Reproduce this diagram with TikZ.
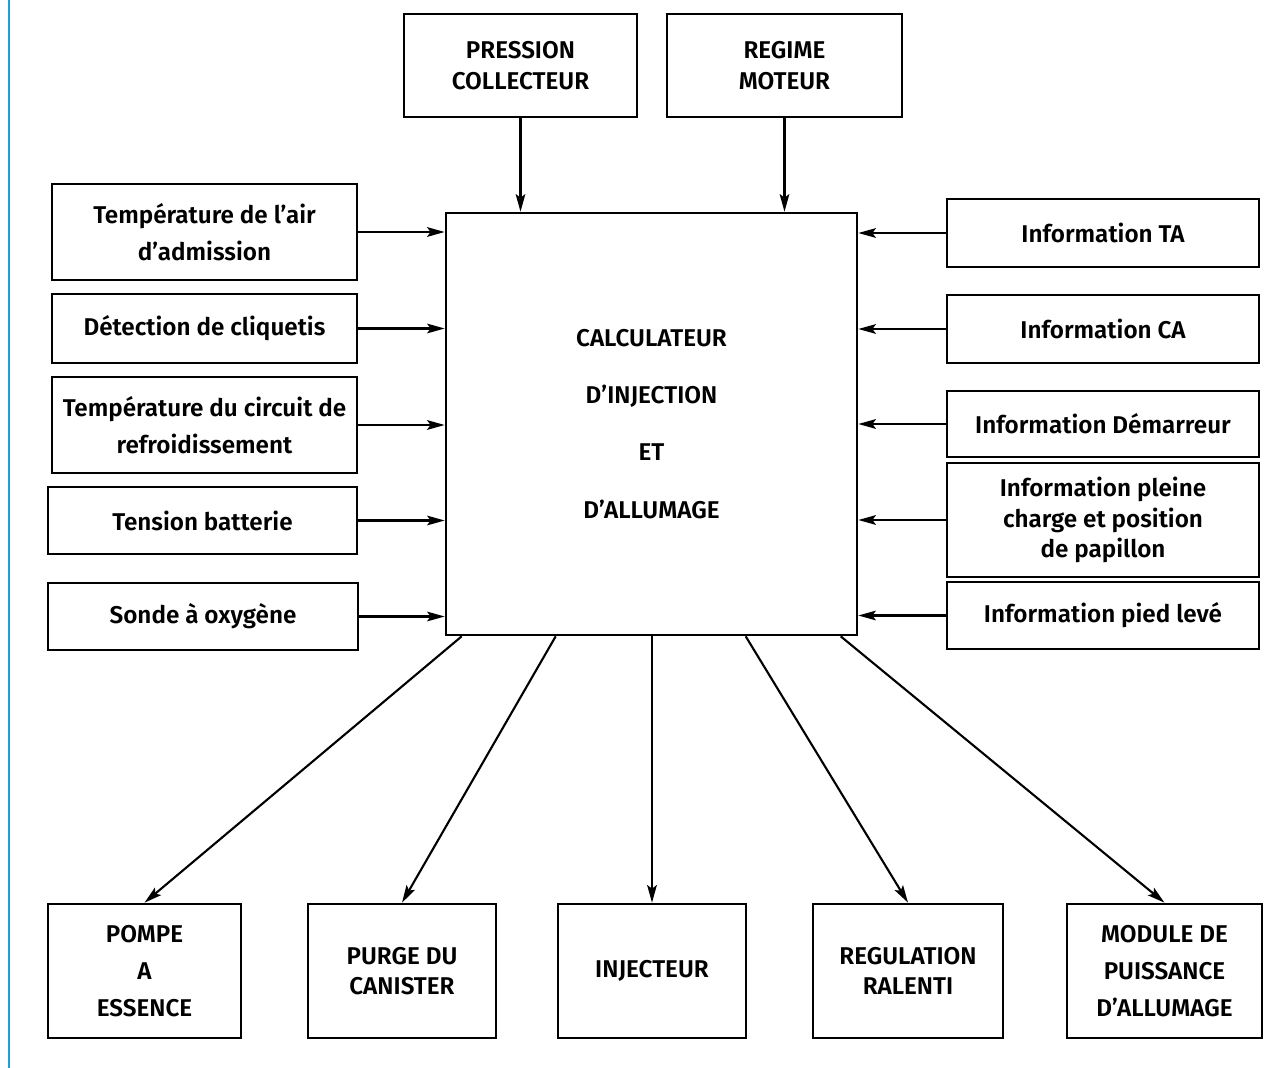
\documentclass[tikz,border=0pt]{standalone}
\usepackage{fontspec}
\setmainfont{Fira Sans}[UprightFont=* SemiBold, BoldFont=* Bold]
\usetikzlibrary{arrows.meta,calc}
\definecolor{edgeblue}{RGB}{28,160,214}
\newcommand\bx[7][]{\node[box,#1, minimum width={(#5-#3)*0.02cm}, minimum height={(#6-#4)*0.02cm}] (#2) at ({(#3+#5)/2},{(#4+#6)/2}) {#7};}
\begin{document}
\begin{tikzpicture}[x=0.02cm,y=-0.02cm,
  box/.style={draw, line width=1.5pt, inner sep=0pt, align=center, font=\fontsize{13.8}{21}\selectfont},
  arr/.style={line width=1.2pt, -{Stealth[length=10pt,width=5.5pt,inset=2pt]}},
  tight/.style={font=\fontsize{13.8}{17.5}\selectfont},
  big/.style={font=\fontsize{13.8}{18}\selectfont},
  wide/.style={font=\fontsize{13.8}{32.5}\selectfont}]
\useasboundingbox (0,0) rectangle (1288,1068);
\fill[white] (0,0) rectangle (1288,1068);
\draw[edgeblue, line width=1.7pt] (9,0) -- (9,1068);
% top
\bx[big]{pc}{404}{14}{637}{117}{PRESSION\\COLLECTEUR}
\bx[big]{rm}{667}{14}{902}{117}{REGIME\\MOTEUR}
% main
\bx[wide]{main}{446}{213}{857}{635}{CALCULATEUR\\D'INJECTION\\ET\\D'ALLUMAGE}
% left
\bx{l1}{52}{184}{357}{280}{Température de l'air\\d'admission}
\bx{l2}{52}{294}{357}{363}{Détection de cliquetis}
\bx{l3}{52}{377}{357}{473}{Température du circuit de\\refroidissement}
\bx{l4}{48}{487}{357}{554}{Tension batterie}
\bx{l5}{48}{583}{358}{650}{Sonde à oxygène}
% right
\bx{r1}{947}{199}{1259}{267}{Information TA}
\bx{r2}{947}{295}{1259}{363}{Information CA}
\bx{r3}{947}{391}{1259}{457}{Information Démarreur}
\bx[tight]{r4}{947}{463}{1259}{577}{Information pleine\\charge et position\\de papillon}
\bx{r5}{947}{582}{1259}{649}{Information pied levé}
% bottom
\bx{b1}{48}{904}{241}{1038}{POMPE\\A\\ESSENCE}
\bx[tight]{b2}{308}{904}{496}{1038}{PURGE DU\\CANISTER}
\bx{b3}{558}{904}{746}{1038}{INJECTEUR}
\bx[tight]{b4}{813}{904}{1003}{1038}{REGULATION\\RALENTI}
\bx{b5}{1067}{904}{1262}{1038}{MODULE DE\\PUISSANCE\\D'ALLUMAGE}
% arrows
\draw[arr] (pc.south) -- (pc.south |- main.north);
\draw[arr] (rm.south) -- (rm.south |- main.north);
\foreach \n in {l1,l2,l3,l4,l5} \draw[arr] (\n.east) -- (\n.east -| main.west);
\foreach \n in {r1,r2,r3,r4,r5} \draw[arr] (\n.west) -- (\n.west -| main.east);
\draw[arr] ($(main.south west)+(17,0)$) -- (b1.north);
\draw[arr] ($(main.south west)+(111,0)$) -- (b2.north);
\draw[arr] (b3.north |- main.south) -- (b3.north);
\draw[arr] ($(main.south west)+(301,0)$) -- (b4.north);
\draw[arr] ($(main.south west)+(396,0)$) -- (b5.north);
\end{tikzpicture}
\end{document}
